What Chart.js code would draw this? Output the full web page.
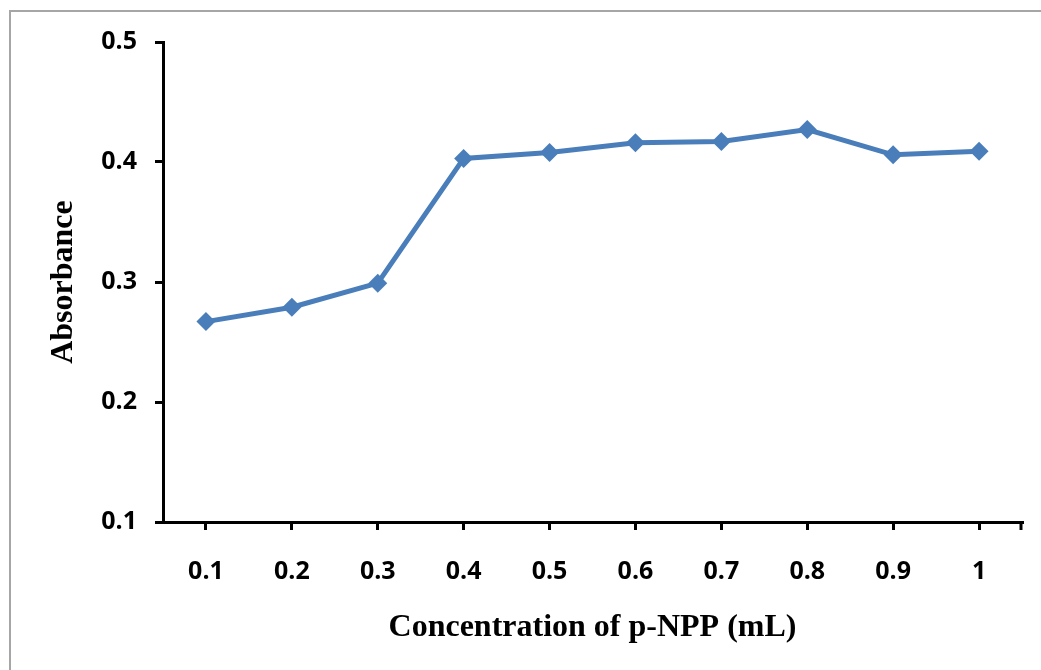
<!DOCTYPE html>
<html lang="en">
<head>
    <meta charset="UTF-8">
    <title>Absorbance vs p-NPP</title>
    <script src="https://cdn.jsdelivr.net/npm/chart.js"></script>
    <style>
        body {
            margin: 0;
            background: #fff;
        }

        .frame {
            position: absolute;
            left: 9px;
            top: 10px;
            width: 1100px;
            height: 700px;
            border-top: 2px solid #a6a6a6;
            border-left: 2px solid #a6a6a6;
        }

        #chart {
            position: absolute;
            left: 0;
            top: 0;
        }
    </style>
</head>
<body>
    <div class="frame"></div>
    <canvas id="chart" width="1041" height="670"></canvas>

    <script>
        // data
        const concentrations = ['0.1', '0.2', '0.3', '0.4', '0.5', '0.6', '0.7', '0.8', '0.9', '1'];
        const absorbance = [0.267, 0.279, 0.299, 0.403, 0.408, 0.416, 0.417, 0.427, 0.406, 0.409];
        const yTicks = [0.1, 0.2, 0.3, 0.4, 0.5];

        const tickFont = { family: 'Open Sans', weight: 'bold', size: 25 };
        const titleFont = { family: 'Liberation Serif', weight: 'bold', size: 32 };

        // the x axis has one extra tick mark at its right end
        const endTick = {
            id: 'endTick',
            afterDraw(chart) {
                const { ctx, chartArea } = chart;
                ctx.save();
                ctx.strokeStyle = '#000';
                ctx.lineWidth = 3;
                ctx.beginPath();
                ctx.moveTo(chartArea.right - 1, chartArea.bottom);
                ctx.lineTo(chartArea.right - 1, chartArea.bottom + 8);
                ctx.stroke();
                ctx.restore();
            }
        };

        new Chart(document.getElementById('chart'), {
            type: 'line',
            data: {
                labels: concentrations,
                datasets: [{
                    data: absorbance,
                    borderColor: '#4a7ebb',
                    backgroundColor: '#4a7ebb',
                    borderWidth: 5,
                    pointStyle: 'rectRot',
                    pointRadius: 9.5,
                    pointBorderWidth: 0,
                    tension: 0,
                    fill: false
                }]
            },
            options: {
                responsive: false,
                animation: false,
                layout: { padding: { top: 42, right: 19, left: 0, bottom: 0 } },
                plugins: {
                    legend: { display: false },
                    tooltip: { enabled: false }
                },
                scales: {
                    x: {
                        offset: true,
                        grid: {
                            offset: false,
                            drawOnChartArea: false,
                            color: '#000',
                            lineWidth: 3,
                            tickLength: 8
                        },
                        border: { color: '#000', width: 3 },
                        ticks: { color: '#000', font: tickFont, padding: 27, maxRotation: 0 },
                        title: {
                            display: true,
                            text: 'Concentration of p-NPP (mL)',
                            color: '#000',
                            font: titleFont,
                            padding: { top: 0, bottom: 23 }
                        },
                        afterFit(scale) { scale.height = 148; }
                    },
                    y: {
                        min: 0.1,
                        max: 0.5,
                        afterBuildTicks(scale) {
                            scale.ticks = yTicks.map(v => ({ value: v }));
                        },
                        grid: {
                            drawOnChartArea: false,
                            color: '#000',
                            lineWidth: 3,
                            tickLength: 8
                        },
                        border: { color: '#000', width: 3 },
                        ticks: {
                            color: '#000',
                            font: tickFont,
                            padding: 18,
                            callback: v => v.toFixed(1)
                        },
                        title: {
                            display: true,
                            text: 'Absorbance',
                            color: '#000',
                            font: titleFont,
                            padding: { top: 45, bottom: 0 }
                        },
                        afterFit(scale) { scale.width = 163; }
                    }
                }
            },
            plugins: [endTick]
        });
    </script>
</body>
</html>
